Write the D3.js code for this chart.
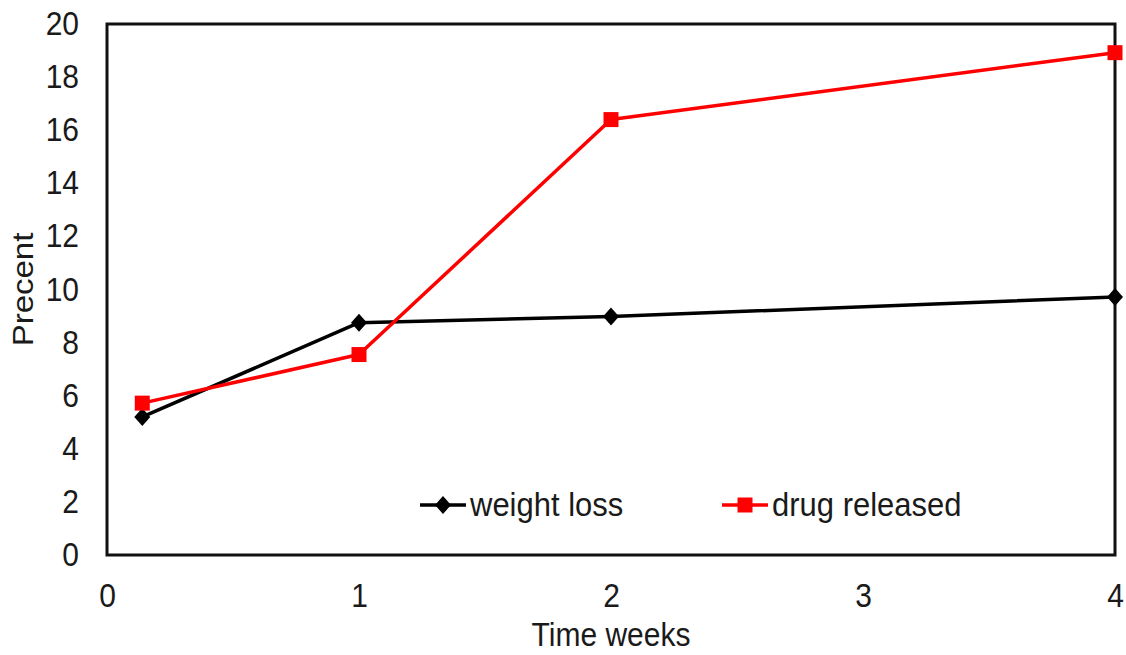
<!DOCTYPE html>
<html>
<head>
<meta charset="utf-8">
<script src="https://cdn.jsdelivr.net/npm/d3@7"></script>
<style>
  html, body { margin: 0; padding: 0; background: #fff; }
  svg { display: block; }
  text { font-family: "Liberation Sans", Arial, sans-serif; fill: #1a1a1a; }
</style>
</head>
<body>
<svg id="chart" width="1126" height="655"></svg>
<script>
// Sampling times (weeks) and measured percentages
const weeks = [0.14, 1, 2, 4];
const weightLoss = [5.2, 8.75, 8.98, 9.72];
const drugReleased = [5.72, 7.55, 16.4, 18.92];
const xTicks = [0, 1, 2, 3, 4];
const yTicks = [0, 2, 4, 6, 8, 10, 12, 14, 16, 18, 20];
const seriesNames = ["weight loss", "drug released"];

const W = 1126, H = 655;
const m = { left: 107, right: 11, top: 24, bottom: 100 };
const svg = d3.select("#chart");
const fs = 30;      // label font size
const sy = 1.1;     // vertical stretch of text glyphs

const x = d3.scaleLinear().domain([0, 4]).range([m.left, W - m.right]);
const y = d3.scaleLinear().domain([0, 20]).range([H - m.bottom, m.top]);

// Y axis labels (no tick marks)
const yAxis = svg.append("g")
  .attr("transform", `translate(${m.left},0)`)
  .call(d3.axisLeft(y).tickValues(yTicks).tickSize(0).tickPadding(28).tickFormat(d3.format("d")));
yAxis.select(".domain").remove();
yAxis.selectAll("text")
  .attr("font-size", fs).attr("font-family", null).attr("fill", "#1a1a1a")
  .attr("transform", `scale(1,${sy})`);

// X axis labels
const xAxis = svg.append("g")
  .attr("transform", `translate(0,${H - m.bottom})`)
  .call(d3.axisBottom(x).tickValues(xTicks).tickSize(0).tickPadding(26).tickFormat(d3.format("d")));
xAxis.select(".domain").remove();
xAxis.selectAll("text")
  .attr("font-size", fs).attr("font-family", null).attr("fill", "#1a1a1a")
  .attr("transform", `scale(1,${sy})`);

// Plot frame
svg.append("rect")
  .attr("x", x(0)).attr("y", y(20))
  .attr("width", x(4) - x(0)).attr("height", y(0) - y(20))
  .attr("fill", "none").attr("stroke", "#111").attr("stroke-width", 3);

// Axis titles
svg.append("text")
  .attr("transform", `translate(${(x(0) + x(4)) / 2},646) scale(1,${sy})`)
  .attr("text-anchor", "middle").attr("font-size", fs)
  .text("Time weeks");
svg.append("text")
  .attr("transform", `translate(33,${(y(0) + y(20)) / 2}) rotate(-90) scale(${sy},1)`)
  .attr("text-anchor", "middle").attr("font-size", fs)
  .text("Precent");

const line = d3.line().x(d => x(d[0])).y(d => y(d[1]));
const diamond = "M0,-9L8,0L0,9L-8,0Z";
const square = "M-7.5,-7.5H7.5V7.5H-7.5Z";

function drawSeries(vals, color, marker) {
  const pts = weeks.map((w, i) => [w, vals[i]]);
  svg.append("path").datum(pts)
    .attr("d", line).attr("fill", "none")
    .attr("stroke", color).attr("stroke-width", 3.5).attr("stroke-linejoin", "round");
  svg.selectAll(null).data(pts).enter().append("path")
    .attr("transform", d => `translate(${x(d[0])},${y(d[1])})`)
    .attr("d", marker).attr("fill", color);
}

drawSeries(weightLoss, "#000", diamond);
drawSeries(drugReleased, "#ff0000", square);

// Legend
const legend = [
  { name: seriesNames[0], color: "#000", marker: diamond, x0: 420 },
  { name: seriesNames[1], color: "#ff0000", marker: square, x0: 722 }
];
const ly = 505;
legend.forEach(l => {
  const g = svg.append("g").attr("transform", `translate(${l.x0},${ly})`);
  g.append("line").attr("x1", 0).attr("x2", 46).attr("y1", 0).attr("y2", 0)
    .attr("stroke", l.color).attr("stroke-width", 3.5);
  g.append("path").attr("transform", "translate(23,0)").attr("d", l.marker).attr("fill", l.color);
  g.append("text")
    .attr("transform", `translate(50,11) scale(1,${sy})`)
    .attr("font-size", 31).text(l.name);
});
</script>
</body>
</html>
